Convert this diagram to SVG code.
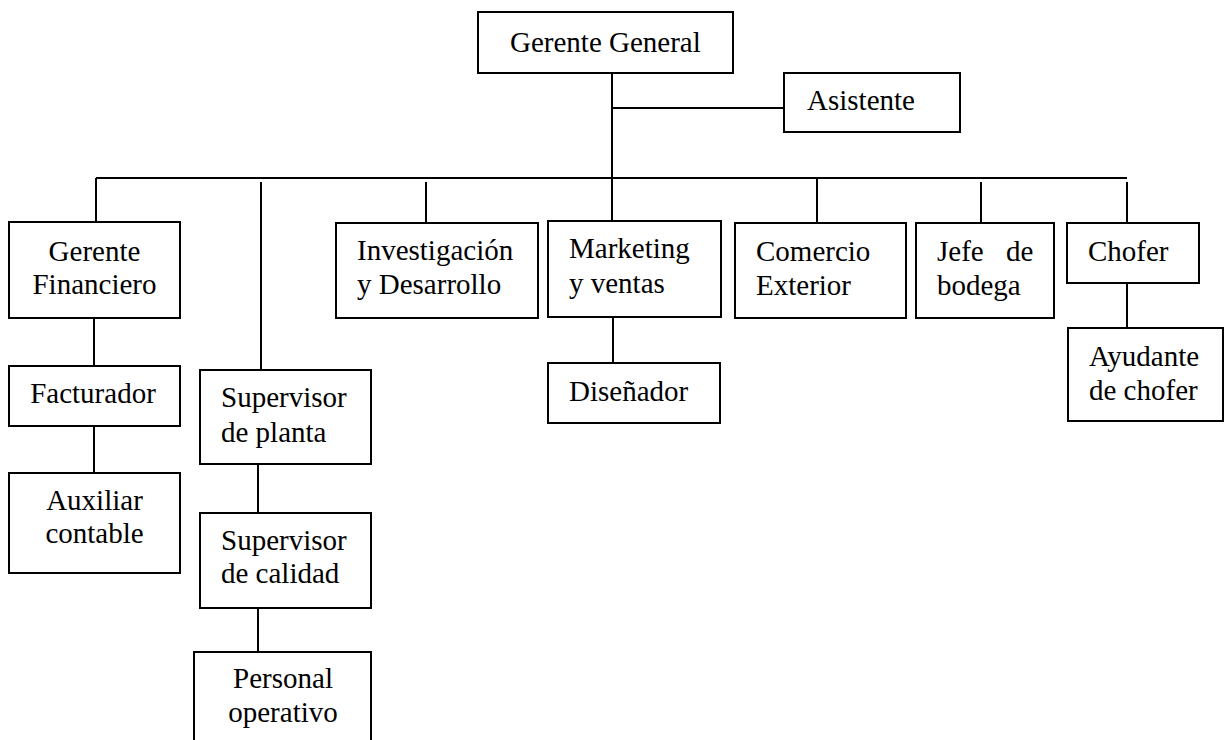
<svg xmlns="http://www.w3.org/2000/svg" width="1225" height="740" viewBox="0 0 1225 740">
  <style>
    .box { fill: #ffffff; stroke: #000000; stroke-width: 2; }
    .link { fill: none; stroke: #000000; stroke-width: 2; }
    text { font-family: "Liberation Serif", "Times New Roman", serif; font-size: 29px; fill: #000000; }
    .c { text-anchor: middle; }
  </style>
  <rect x="0" y="0" width="1225" height="740" fill="#ffffff"/>

  <!-- connectors -->
  <g id="connectors">
    <path class="link" d="M612 73 V221"/>
    <path class="link" d="M612 108 H784"/>
    <path class="link" d="M96 178 H1127"/>
    <path class="link" d="M96 178 V222"/>
    <path class="link" d="M261 182 V370"/>
    <path class="link" d="M426 182 V223"/>
    <path class="link" d="M817 178 V223"/>
    <path class="link" d="M981 182 V223"/>
    <path class="link" d="M1127 182 V223"/>
    <path class="link" d="M94 318 V366"/>
    <path class="link" d="M94 426 V473"/>
    <path class="link" d="M258 464 V513"/>
    <path class="link" d="M258 608 V652"/>
    <path class="link" d="M613 317 V363"/>
    <path class="link" d="M1127 283 V328"/>
  </g>

  <g id="gerente-general">
    <rect class="box" x="478" y="12" width="255" height="61"/>
    <text x="510" y="52">Gerente General</text>
  </g>

  <g id="asistente">
    <rect class="box" x="784" y="73" width="176" height="59"/>
    <text x="807" y="110">Asistente</text>
  </g>

  <g id="gerente-financiero">
    <rect class="box" x="9" y="222" width="171" height="96"/>
    <text class="c" x="94.5" y="261">Gerente</text>
    <text class="c" x="94.5" y="294">Financiero</text>
  </g>

  <g id="facturador">
    <rect class="box" x="9" y="366" width="171" height="60"/>
    <text class="c" x="93" y="403">Facturador</text>
  </g>

  <g id="auxiliar-contable">
    <rect class="box" x="9" y="473" width="171" height="100"/>
    <text class="c" x="94.5" y="510">Auxiliar</text>
    <text class="c" x="94.5" y="543">contable</text>
  </g>

  <g id="supervisor-planta">
    <rect class="box" x="200" y="370" width="171" height="94"/>
    <text x="221" y="407">Supervisor</text>
    <text x="221" y="442">de planta</text>
  </g>

  <g id="supervisor-calidad">
    <rect class="box" x="200" y="513" width="171" height="95"/>
    <text x="221" y="550">Supervisor</text>
    <text x="221" y="583">de calidad</text>
  </g>

  <g id="personal-operativo">
    <rect class="box" x="194" y="652" width="177" height="100"/>
    <text class="c" x="283" y="688">Personal</text>
    <text class="c" x="283" y="722">operativo</text>
  </g>

  <g id="investigacion">
    <rect class="box" x="336" y="223" width="202" height="95"/>
    <text x="357" y="260">Investigación</text>
    <text x="357" y="294">y Desarrollo</text>
  </g>

  <g id="marketing">
    <rect class="box" x="548" y="221" width="173" height="96"/>
    <text x="569" y="258">Marketing</text>
    <text x="569" y="293">y ventas</text>
  </g>

  <g id="disenador">
    <rect class="box" x="548" y="363" width="172" height="60"/>
    <text x="569" y="401">Diseñador</text>
  </g>

  <g id="comercio-exterior">
    <rect class="box" x="735" y="223" width="171" height="95"/>
    <text x="756" y="261">Comercio</text>
    <text x="756" y="295">Exterior</text>
  </g>

  <g id="jefe-bodega">
    <rect class="box" x="916" y="223" width="138" height="95"/>
    <text y="261"><tspan x="937">Jefe</tspan><tspan x="1006">de</tspan></text>
    <text x="937" y="295">bodega</text>
  </g>

  <g id="chofer">
    <rect class="box" x="1067" y="223" width="132" height="60"/>
    <text x="1088" y="261">Chofer</text>
  </g>

  <g id="ayudante-chofer">
    <rect class="box" x="1068" y="328" width="155" height="93"/>
    <text x="1089" y="366">Ayudante</text>
    <text x="1089" y="400">de chofer</text>
  </g>
</svg>
